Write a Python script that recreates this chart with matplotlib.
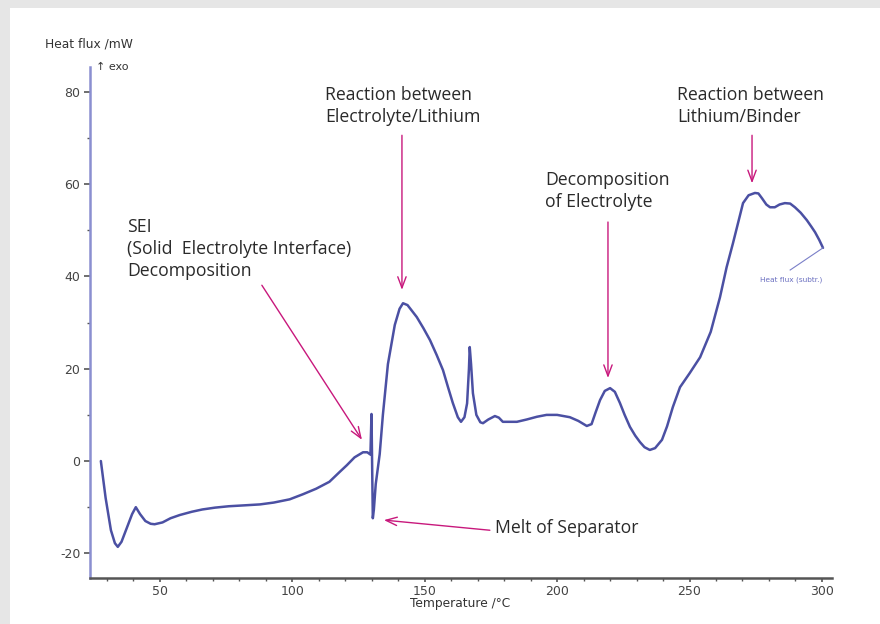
import matplotlib
matplotlib.use("Agg")
import matplotlib.pyplot as plt
from matplotlib.patches import Rectangle

# ---- data ----
temperature = [27.7, 29.5, 31.5, 33.0, 34.1, 35.5, 37.5, 39.5, 40.9, 42.5, 44.5, 46.5, 48.0,
               51.0, 54.0, 57.5, 62.0, 66.0, 70.8, 76.0, 82.0, 87.8, 93.0, 99.0, 104.0,
               109.0, 114.0, 118.0, 120.6, 123.5, 126.7, 128.3, 129.5, 129.9, 130.1, 130.4,
               130.8, 131.5, 133.0, 134.2, 136.1, 138.7, 140.5, 141.8, 143.5, 147.0, 149.5,
               152.0, 154.5, 156.9, 158.8, 160.6, 162.5, 163.7, 165.0, 166.0, 166.7, 167.0,
               167.5, 168.2, 169.5, 171.0, 172.0, 174.0, 176.5, 178.0, 179.5, 184.8, 188.5,
               192.4, 196.0, 200.0, 204.8, 208.0, 211.2, 213.0, 214.5, 216.2, 218.0, 220.0,
               221.8, 223.7, 225.5, 227.5, 229.5, 231.3, 233.0, 235.0, 237.0, 239.6, 241.5,
               243.7, 246.4, 250.0, 254.0, 258.0, 261.5, 264.0, 266.4, 268.5, 270.2, 272.3,
               274.7, 276.0, 277.3, 279.0, 280.4, 282.2, 284.0, 286.0, 288.0, 289.8, 292.0,
               294.3, 296.0, 297.4, 299.0, 300.4]
heat_flux = [0.0, -8.0, -15.0, -17.8, -18.6, -17.5, -14.5, -11.5, -10.0, -11.5, -13.0, -13.6, -13.7,
             -13.3, -12.4, -11.7, -11.0, -10.5, -10.1, -9.8, -9.6, -9.4, -9.0, -8.3, -7.2,
             -6.0, -4.5, -2.3, -0.9, 0.8, 1.9, 1.9, 1.4, 10.2, 1.0, -12.4,
             -10.5, -5.0, 1.5, 10.0, 21.0, 29.5, 33.0, 34.2, 33.8, 31.2, 28.8,
             26.2, 23.0, 19.7, 16.0, 12.6, 9.5, 8.5, 9.5, 12.5, 20.0, 24.7,
             21.0, 14.7, 10.0, 8.4, 8.2, 9.0, 9.75, 9.4, 8.5, 8.5, 9.0,
             9.6, 10.0, 10.0, 9.5, 8.7, 7.6, 8.0, 10.5, 13.2, 15.2, 15.8,
             15.0, 12.6, 10.0, 7.4, 5.5, 4.1, 3.0, 2.4, 2.8, 4.6, 7.5,
             11.7, 16.0, 19.0, 22.5, 28.0, 35.5, 42.0, 47.2, 52.0, 55.9, 57.6,
             58.1, 58.0, 57.0, 55.6, 55.0, 55.0, 55.6, 55.9, 55.8, 55.0, 53.8,
             52.2, 50.8, 49.6, 47.9, 46.2]

x_major = [50, 100, 150, 200, 250, 300]
y_major = [-20, 0, 20, 40, 60, 80]

labels = ["SEI\n(Solid  Electrolyte Interface)\nDecomposition",
          "Reaction between\nElectrolyte/Lithium",
          "Decomposition\nof Electrolyte",
          "Reaction between\nLithium/Binder",
          "Melt of Separator"]
# (text x, text y, arrow tail x, tail y, arrow head x, head y) in data units
label_pos = [(37.5, 45.9, 88.5, 38.1, 126.3, 4.6),
             (112.3, 76.9, 141.4, 70.6, 141.4, 37.1),
             (195.4, 58.5, 219.2, 51.8, 219.2, 18.0),
             (245.2, 76.9, 273.6, 70.6, 273.6, 60.2),
             (176.5, -14.5, 174.6, -15.0, 134.6, -12.8)]

W, H = 880, 624
fig = plt.figure(figsize=(W / 100, H / 100), dpi=100)
fig.patch.set_facecolor("#e6e6e6")
bg = fig.add_axes([10 / W, 0, 1 - 10 / W, 1 - 8 / H])
bg.set_axis_off()
bg.add_patch(Rectangle((0, 0), 1, 1, transform=bg.transAxes, facecolor="white",
                       edgecolor="none"))
bg.set_zorder(0)

ax = fig.add_axes([90 / W, 1 - 578 / H, (832 - 90) / W, (578 - 67) / H])
ax.set_zorder(2)
ax.set_facecolor("none")
ax.plot(temperature, heat_flux, color="#4b50a3", lw=1.8, solid_joinstyle="round",
        solid_capstyle="round")
ax.set_xlim(23.6, 303.8)
ax.set_ylim(-25.35, 85.4)

for s in ("top", "right"):
    ax.spines[s].set_visible(False)
ax.spines["left"].set_color("#8a8fd0")
ax.spines["left"].set_linewidth(1.8)
ax.spines["bottom"].set_color("#555555")
ax.spines["bottom"].set_linewidth(1.8)

ax.set_xticks(x_major)
ax.set_xticks(list(range(30, 301, 10)), minor=True)
ax.set_yticks(y_major)
ax.set_yticks(list(range(-10, 81, 20)), minor=True)
tickfont = dict(family="DejaVu Sans", size=9)
ax.set_xticklabels([str(v) for v in x_major], fontdict=tickfont, color="#444444")
ax.set_yticklabels([str(v) for v in y_major], fontdict=tickfont, color="#444444")
ax.tick_params(axis="y", which="major", length=4, width=1.2, color="#555555", pad=3)
ax.tick_params(axis="y", which="minor", length=2, width=1.0, color="#555555")
ax.tick_params(axis="x", which="major", length=3, width=1.2, color="#555555", pad=2)
ax.tick_params(axis="x", which="minor", length=2, width=1.0, color="#555555")

fig.text(45 / W, 1 - 44 / H, "Heat flux /mW", family="DejaVu Sans", size=8.8,
         color="#333333", va="center", ha="left", zorder=3)
fig.text(96 / W, 1 - 67 / H, "↑ exo", family="DejaVu Sans", size=8,
         color="#333333", va="center", ha="left", zorder=3)
fig.text(460 / W, 1 - 604 / H, "Temperature /°C", family="DejaVu Sans", size=8.8,
         color="#333333", va="center", ha="center", zorder=3)

mag = "#c8187c"
for lab, (tx, ty, ax0, ay0, ax1, ay1) in zip(labels, label_pos):
    ax.text(tx, ty, lab, family="Open Sans", size=12.7, color="#2a2a2a",
            ha="left", va="center", linespacing=1.27)
    ax.annotate("", xy=(ax1, ay1), xytext=(ax0, ay0),
                arrowprops=dict(arrowstyle="->,head_length=0.8,head_width=0.3",
                                color=mag, lw=1.0, shrinkA=0, shrinkB=0))

# series label
ax.plot([300.4, 288.0], [46.2, 41.4], color="#7a7fc8", lw=0.8)
ax.text(288.5, 39.2, "Heat flux (subtr.)", family="DejaVu Sans", size=5.3,
        color="#6a6fc0", ha="center", va="center")

fig.savefig("out.png", dpi=100, facecolor=fig.get_facecolor())
